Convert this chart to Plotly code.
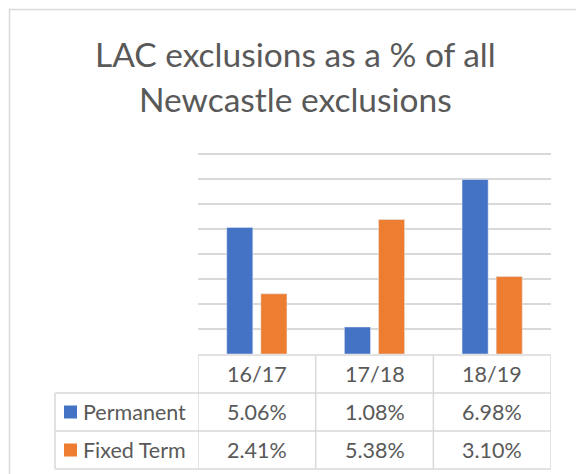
import plotly.graph_objects as go

# data
years = ['16/17', '17/18', '18/19']
permanent = [5.06, 1.08, 6.98]
fixed_term = [2.41, 5.38, 3.10]
series_names = ['Permanent', 'Fixed Term']
colours = ['#4472C4', '#ED7D31']
title_lines = ['LAC exclusions as a % of all', 'Newcastle exclusions']

W, H = 576, 474
txt = '#595959'
grid = '#d9d9d9'
font = 'Lato, Carlito, Calibri, sans-serif'

def px(x):
    return x / W

def py(y):
    return 1 - y / H

fig = go.Figure()
fig.add_trace(go.Bar(x=years, y=permanent, name=series_names[0], marker_color=colours[0]))
fig.add_trace(go.Bar(x=years, y=fixed_term, name=series_names[1], marker_color=colours[1]))

shapes = []
# chart border
shapes.append(dict(type='rect', xref='paper', yref='paper', x0=px(9.5), x1=1.05, y0=-0.05, y1=py(9.5),
                   line=dict(color=grid, width=1.5)))
# data table horizontal lines
table_top, row_h = 355, 38
for i in range(4):
    y = table_top + i * row_h
    x0 = 198 if i == 0 else 55
    shapes.append(dict(type='line', xref='paper', yref='paper', x0=px(x0), x1=px(551), y0=py(y), y1=py(y),
                       line=dict(color=grid, width=1.5)))
# vertical lines at category boundaries
for b in [-0.5, 0.5, 1.5, 2.5]:
    shapes.append(dict(type='line', xref='x', yref='paper', x0=b, x1=b, y0=py(table_top + 3 * row_h), y1=py(table_top),
                       line=dict(color=grid, width=1.5)))
shapes.append(dict(type='line', xref='paper', yref='paper', x0=px(55), x1=px(55),
                   y0=py(table_top + 3 * row_h), y1=py(table_top + row_h), line=dict(color=grid, width=1.5)))

annotations = []
for line, yc in zip(title_lines, [54, 99]):
    annotations.append(dict(x=px(295.5), xref='paper', y=py(yc), yref='paper', xanchor='center', yanchor='middle',
                            text=line, showarrow=False, font=dict(size=33.5, color=txt, family=font)))
for i, yr in enumerate(years):
    annotations.append(dict(x=yr, xref='x', y=py(table_top + row_h / 2), yref='paper', xanchor='center',
                            yanchor='middle', text=yr, showarrow=False, font=dict(size=21.5, color=txt, family=font)))
rows = [permanent, fixed_term]
for r, vals in enumerate(rows):
    yc = table_top + row_h * (r + 1.5)
    for yr, v in zip(years, vals):
        annotations.append(dict(x=yr, xref='x', y=py(yc), yref='paper', xanchor='center', yanchor='middle',
                                text=f'{v:.2f}%', showarrow=False, font=dict(size=21.5, color=txt, family=font)))
    annotations.append(dict(x=px(80.5), xref='paper', y=py(yc), yref='paper', xanchor='left', yanchor='middle',
                            text=series_names[r], showarrow=False, font=dict(size=21.5, color=txt, family=font)))
    shapes.append(dict(type='rect', xref='paper', yref='paper', x0=px(64), x1=px(77), y0=py(yc + 6.5), y1=py(yc - 6.5),
                       fillcolor=colours[r], line=dict(width=0)))

# y range goes past 8 so the top gridline isn't dropped at the edge
ytop = 8.25
fig.update_layout(
    width=W, height=H,
    margin=dict(l=0, r=0, t=0, b=0),
    paper_bgcolor='white', plot_bgcolor='white',
    showlegend=False,
    barmode='group', bargap=0.42, bargroupgap=0.235,
    xaxis=dict(domain=[px(198), px(551)], range=[-0.5, 2.5], showticklabels=False, showgrid=False,
               zeroline=False, showline=False),
    yaxis=dict(domain=[py(354), py(354 - 25 * ytop)], range=[0, ytop], dtick=1, showticklabels=False,
               showgrid=True, gridcolor=grid, gridwidth=1.5, zeroline=False, showline=False),
    shapes=shapes, annotations=annotations,
)

# page body has an 8px default margin, drop it so the figure sits at 0,0
fig.write_html('out.html', config={'displayModeBar': False},
               post_script="document.body.style.margin='0';")
